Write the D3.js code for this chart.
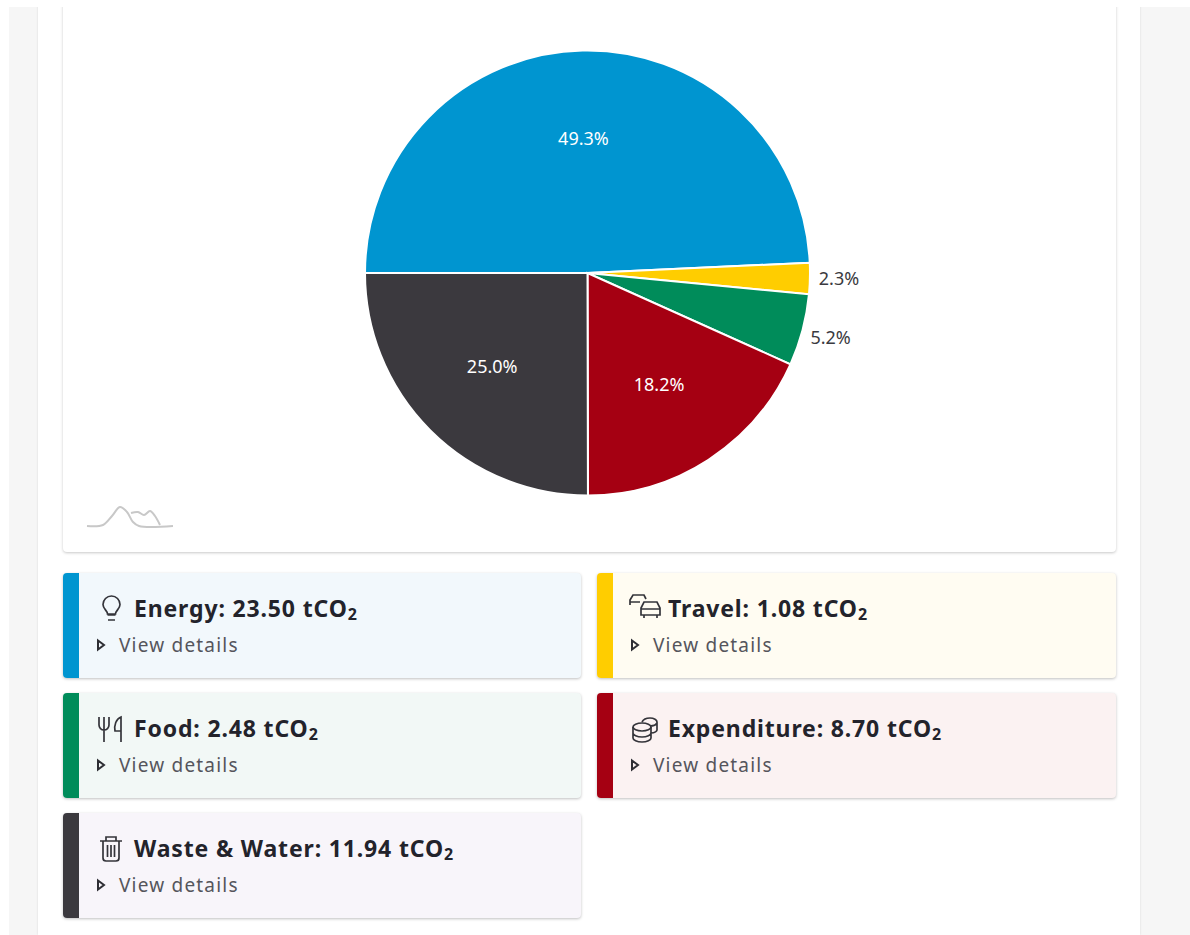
<!DOCTYPE html>
<html>
<head>
<meta charset="utf-8">
<script src="https://cdn.jsdelivr.net/npm/d3@7"></script>
<style>
  html, body { margin: 0; padding: 0; background: #fff; }
  body { width: 1190px; height: 935px; overflow: hidden; position: relative; font-family: "Noto Sans", sans-serif; }
  #side { position: absolute; left: 9px; right: 0; top: 7px; bottom: 0; background: #f6f6f6; }
  #page { position: absolute; left: 38px; width: 1102px; top: 0; bottom: 0; background: #fff;
    box-shadow: 0 0 2px rgba(0,0,0,.12); }
  #chart-card { position: absolute; left: 63px; width: 1053px; top: 0; height: 552px; background: #fff; border-radius: 4px;
    box-shadow: 0 1px 3px rgba(0,0,0,.22); }
  #top-strip { position: absolute; left: 0; right: 0; top: 0; height: 7px; background: #fff; }
  svg#pie { position: absolute; left: 0; top: 0; }
  .card { position: absolute; height: 105px; border-radius: 4px; overflow: hidden;
    box-shadow: 0 1px 3px rgba(0,0,0,.25); color: #23232b; }
  .bar { position: absolute; left: 0; top: 0; bottom: 0; width: 16px; }
  .title { position: absolute; left: 71px; top: 19px; font-size: 23px; letter-spacing: .85px; font-weight: 700; line-height: 32px; white-space: nowrap; }
  .title sub { font-size: 16px; line-height: 0; vertical-align: -3px; }
  .icon { position: absolute; left: 34px; top: 20px; overflow: visible; }
  .more { position: absolute; left: 56px; top: 57px; font-size: 19px; letter-spacing: 1.2px; line-height: 30px; color: #55555c; white-space: nowrap; }
  .arrow { position: absolute; left: 32px; top: 65px; }
</style>
</head>
<body>
<div id="side"></div>
<div id="page"></div>
<div id="chart-card"></div>
<div id="top-strip"></div>
<svg id="pie" width="1190" height="935"></svg>
<script>
var categories = ["Energy", "Travel", "Food", "Expenditure", "Waste & Water"];
var emissions = [23.50, 1.08, 2.48, 8.70, 11.94];
var percentLabels = ["49.3%", "2.3%", "5.2%", "18.2%", "25.0%"];
var colors = ["#0095d0", "#ffcd00", "#008c5a", "#a50012", "#3b393e"];
var tints = ["#f2f8fc", "#fffcf2", "#f2f8f6", "#fbf2f2", "#f8f5fa"];
var unit = "tCO";

// little outline icons, one per card
var icons = {
  "Energy": '<path d="M11 27h7M10.500 22h8M10.500 21c0-3.500-4.500-5-4.500-9.500a8.500 8.500 0 0 1 17 0c0 4.500-4.500 6-4.500 9.500z"/>',
  "Travel": '<path d="M-1 12V7L2 2H13L15 6M-1 9H9M10 22V15L13 9H26L29 15V22ZM10 16H29M13 22v3M26 22v3"/>',
  "Food": '<path d="M2 4v8a5 5 0 0 0 10 0V4M7 4v25M24 4c-5 2-7 8-6 14h6zM24 4v25"/>',
  "Expenditure": '<ellipse cx="11" cy="14" rx="9" ry="4"/><path d="M2 14v11c0 2 4 4 9 4s9-2 9-4V14M2 20c0 2 4 4 9 4s9-2 9-4M11 9c1-2 4-4 8-4s7 2 7 4v8c0 1-2 3-6 3M19 13c3 0 6-1 7-3"/>',
  "Waste & Water": '<path d="M3 8h22M9 8V4h10v4M6 8v17a3 3 0 0 0 3 3h10a3 3 0 0 0 3-3V8M10.500 12v12M14 12v12M17.500 12v12"/>'
};

var cx = 587.5, cy = 273, radius = 222.5;
var svg = d3.select("#pie");

var pie = d3.pie()
  .sort(null)
  .startAngle(-Math.PI / 2)
  .endAngle(Math.PI * 1.5);

var arc = d3.arc().innerRadius(0).outerRadius(radius);

var g = svg.append("g").attr("transform", "translate(" + cx + "," + cy + ")");
var slices = pie(emissions);

g.selectAll("path")
  .data(slices)
  .enter()
  .append("path")
  .attr("d", arc)
  .attr("fill", function(d, i) { return colors[i]; })
  .attr("stroke", "#fff")
  .attr("stroke-width", 2);

// big slices get the label inside, small ones just past the edge
var inner = d3.arc().innerRadius(radius * 0.6).outerRadius(radius * 0.6);
var outer = d3.arc().innerRadius(radius * 1.135).outerRadius(radius * 1.135);

g.selectAll("text")
  .data(slices)
  .enter()
  .append("text")
  .attr("transform", function(d, i) {
    var c = (i == 1 || i == 2) ? outer.centroid(d) : inner.centroid(d);
    return "translate(" + (c[0] - 1) + "," + c[1] + ")";
  })
  .attr("text-anchor", "middle")
  .attr("dy", "0.32em")
  .attr("font-size", 18)
  .attr("fill", function(d, i) { return (i == 1 || i == 2) ? "#3a3a40" : "#fff"; })
  .text(function(d, i) { return percentLabels[i]; });

// faint hills logo bottom left of the chart card
var logoX = d3.scaleLinear().domain([87, 173]).range([87, 173]);
var logoY = d3.scaleLinear().domain([0, 19]).range([526, 507]);
var hillOne = [[87,0],[103,1],[112,10],[120,19],[127,14],[133,4],[139,0],[173,0]];
var hillTwo = [[131,13],[138,14],[144,11],[150,15],[155,10],[160,1]];
var logoLine = d3.line()
  .x(function(d) { return logoX(d[0]); })
  .y(function(d) { return logoY(d[1]); })
  .curve(d3.curveCatmullRom);

[hillOne, hillTwo].forEach(function(pts) {
  svg.append("path")
    .attr("d", logoLine(pts))
    .attr("fill", "none")
    .attr("stroke", "#c8c8c8")
    .attr("stroke-width", 2);
});

// detail cards
var cardLeft = d3.scalePoint().domain([0, 1]).range([63, 597]);
var cardTop = d3.scalePoint().domain([0, 1, 2]).range([573, 813]);

categories.forEach(function(name, i) {
  var card = d3.select("body").append("div")
    .attr("class", "card")
    .style("left", cardLeft(i % 2) + "px")
    .style("top", cardTop(Math.floor(i / 2)) + "px")
    .style("width", (i % 2 ? 519 : 518) + "px")
    .style("background", tints[i]);
  card.append("div").attr("class", "bar").style("background", colors[i]);
  card.append("svg").attr("class", "icon")
    .attr("width", 27).attr("height", 30).attr("viewBox", "0 0 27 30")
    .attr("fill", "none").attr("stroke", "#34343a").attr("stroke-width", 1.7)
    .html(icons[name]);
  var title = card.append("div").attr("class", "title");
  title.append("span").text(name + ": " + emissions[i].toFixed(2) + " " + unit);
  title.append("sub").text("2");
  card.append("svg").attr("class", "arrow")
    .attr("width", 12).attr("height", 14).attr("viewBox", "0 0 12 14")
    .append("path").attr("d", "M3 2.500L9 7L3 11.500Z")
    .attr("fill", "none").attr("stroke", "#2e2e34").attr("stroke-width", 2);
  card.append("div").attr("class", "more").text("View details");
});
</script>
</body>
</html>
